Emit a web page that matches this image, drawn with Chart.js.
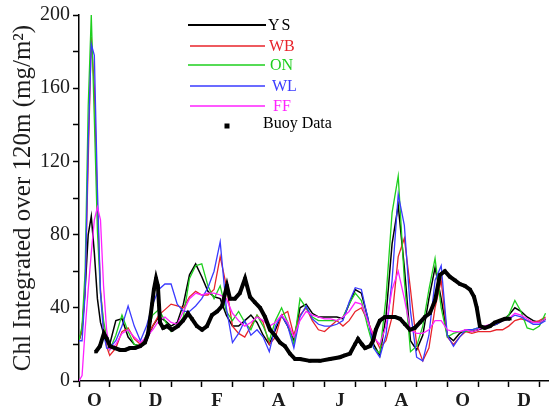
<!DOCTYPE html>
<html>
<head>
<meta charset="utf-8">
<script src="https://cdn.jsdelivr.net/npm/chart.js@4/dist/chart.umd.min.js"></script>
<style>
  html, body { margin: 0; padding: 0; background: #fff; }
  #wrap { width: 555px; height: 413px; }
</style>
</head>
<body>
<div id="wrap"><canvas id="chl" width="555" height="413"></canvas></div>
<script>
// Time axis in months from 1 October (0 = start of October)
const modelMonths = [
  0, 0.1, 0.2, 0.3, 0.4, 0.5, 0.6, 0.7, 0.8, 0.9, 1.0,
  1.2, 1.4, 1.6, 1.8, 2.0, 2.2, 2.4, 2.6, 2.8, 3.0,
  3.2, 3.4, 3.6, 3.8, 4.0, 4.2, 4.4, 4.6, 4.8, 5.0,
  5.2, 5.4, 5.6, 5.8, 6.0, 6.2, 6.4, 6.6, 6.8, 7.0,
  7.2, 7.4, 7.6, 7.8, 8.0, 8.2, 8.4, 8.6, 8.8, 9.0,
  9.2, 9.4, 9.6, 9.8, 10.0, 10.2, 10.4, 10.6, 10.8, 11.0,
  11.2, 11.4, 11.6, 11.8, 12.0, 12.2, 12.4, 12.6, 12.8, 13.0,
  13.2, 13.4, 13.6, 13.8, 14.0, 14.2, 14.4, 14.6, 14.8, 15.0,
  15.2
];

// Integrated chlorophyll (mg/m2) for each model run
const seriesYS = [
  22, 28, 50, 80, 90, 70, 45, 32, 26, 22, 20,
  33, 34, 24, 20, 19, 22, 30, 35, 33, 30,
  32, 42, 58, 64, 57, 49, 46, 45, 36, 30,
  30, 33, 36, 32, 25, 20, 28, 36, 30, 22,
  40, 42, 37, 35, 35, 35, 35, 34, 42, 50,
  48, 35, 20, 14, 35, 75, 96, 62, 22, 17,
  25, 45, 62, 45, 25, 22, 26, 28, 27, 28,
  29, 30, 31, 33, 36, 40, 38, 35, 33, 32,
  34
];
const seriesWB = [
  22, 28, 50, 120, 188, 160, 95, 50, 30, 19, 14,
  18, 27, 29, 23, 20, 24, 30, 36, 39, 42,
  41, 40, 46, 49, 47, 47, 50, 68, 52, 30,
  26, 24, 30, 36, 32, 20, 24, 36, 38, 25,
  36, 40, 33, 28, 27, 30, 33, 30, 33, 38,
  40, 33, 25, 18, 22, 35, 68, 78, 50, 20,
  11, 18, 40, 55, 24, 20, 24, 27, 26, 27,
  27, 27, 28, 28, 30, 33, 34, 33, 32, 33,
  35
];
const seriesON = [
  22, 30, 60, 150, 200, 143, 82, 48, 33, 24, 17,
  25, 36, 27, 20, 19, 25, 36, 39, 33, 27,
  30, 35, 56, 63, 64, 52, 45, 52, 38, 33,
  38, 32, 28, 36, 30, 22, 33, 40, 32, 20,
  45, 40, 35, 33, 33, 33, 33, 35, 42, 48,
  44, 30, 18, 15, 45, 92, 112, 55, 16, 19,
  30, 50, 67, 40, 24, 26, 27, 27, 28, 29,
  30, 30, 32, 33, 36, 44, 38, 29, 28, 30,
  37
];
const seriesWL = [
  22, 22, 48, 130, 184, 178, 105, 48, 26, 18, 18,
  22, 30, 41, 30, 22, 30, 42, 50, 53, 53,
  42, 38, 38, 41, 45, 51, 60, 76, 40, 21,
  26, 33, 25, 28, 24, 16, 30, 36, 30, 18,
  35, 41, 34, 31, 30, 30, 31, 33, 43, 51,
  50, 35, 18, 13, 25, 55, 102, 85, 38, 13,
  11, 25, 55, 63, 25, 19, 24, 28, 28, 29,
  29, 30, 31, 33, 34, 36, 35, 33, 31, 31,
  33
];
const seriesFF = [
  0, 3, 28, 50, 70, 88, 95, 88, 52, 28, 17,
  20, 26, 28, 24, 21, 24, 28, 33, 35, 32,
  31, 38, 45, 48, 47, 48, 48, 47, 45, 37,
  33, 30, 32, 35, 33, 30, 32, 36, 32, 24,
  33, 38, 36, 35, 34, 34, 33, 35, 38, 43,
  42, 33, 24, 20, 30, 50, 60, 45, 28, 26,
  26, 28, 33, 33, 28, 27, 27, 28, 27, 28,
  30, 31, 32, 33, 34, 37, 36, 34, 32, 32,
  34
];

// Mooring observations
const buoyMonths = [
  0.55, 0.68, 0.81, 0.91, 1.01, 1.17, 1.34, 1.50, 1.66, 1.82,
  1.99, 2.15, 2.25, 2.31, 2.38, 2.44, 2.51, 2.57, 2.64, 2.74,
  2.87, 3.03, 3.22, 3.39, 3.55, 3.68, 3.84, 4.01, 4.17, 4.33,
  4.50, 4.66, 4.82, 4.92, 5.08, 5.24, 5.41, 5.57, 5.73, 5.90,
  6.06, 6.22, 6.38, 6.55, 6.71, 6.87, 7.04, 7.20, 7.52, 7.85,
  8.18, 8.50, 8.66, 8.83, 8.99, 9.09, 9.22, 9.32, 9.48, 9.58,
  9.67, 9.80, 9.97, 10.13, 10.29, 10.46, 10.62, 10.78, 10.94, 11.11,
  11.27, 11.43, 11.60, 11.76, 11.92, 12.08, 12.25, 12.41, 12.57, 12.74,
  12.87, 12.96, 13.06, 13.22, 13.39, 13.55, 13.71, 13.88, 14.04
];
const buoyValues = [
  16, 19, 26, 23, 19, 18, 17, 17, 18, 18,
  19, 21, 26, 33, 42, 50, 56, 52, 32, 29,
  30, 28, 30, 33, 37, 34, 30, 28, 30, 36,
  38, 41, 52, 45, 45, 48, 56, 46, 43, 40,
  35, 28, 25, 21, 19, 15, 12, 12, 11, 11,
  12, 13, 14, 15, 20, 23, 20, 18, 19, 22,
  28, 33, 35, 35, 35, 34, 31, 28, 29, 32,
  35, 37, 44, 58, 60, 57, 55, 53, 52, 50,
  46, 40, 30, 29, 30, 32, 33, 34, 34
];

// Month initials, centred in every other month
const labelMonths = [0.5, 2.5, 4.5, 6.5, 8.5, 10.5, 12.5, 14.5];
const monthInitials = ['O', 'D', 'F', 'A', 'J', 'A', 'O', 'D'];
const monthCount = 15;

const yAxisTitle = 'Chl Integrated over 120m (mg/m\u00B2)';

const COLORS = {
  YS: '#000000',
  WB: '#e8232a',
  ON: '#1ecf1e',
  WL: '#3a3aff',
  FF: '#ff22ff',
  buoy: '#000000'
};

const toPoints = (xs, ys) => xs.map((x, i) => ({ x: x, y: ys[i] }));

// x tick positions: month boundaries (with tick marks) and mid-months (labels only)
const xTickValues = [];
for (let m = 0; m <= monthCount; m++) {
  xTickValues.push(m);
  if (m < monthCount) xTickValues.push(m + 0.5);
}

// Hand-placed legend block in the upper middle of the plot
const legendRows = [
  { text: 'YS', color: COLORS.YS, y: 25, x1: 188, x2: 266, tx: 268, lw: 2, spacing: '2px' },
  { text: 'WB', color: COLORS.WB, y: 46, x1: 190, x2: 265, tx: 269, lw: 1.5 },
  { text: 'ON', color: COLORS.ON, y: 65, x1: 188, x2: 265, tx: 270, lw: 1.5 },
  { text: 'WL', color: COLORS.WL, y: 86, x1: 190, x2: 265, tx: 272, lw: 1.5 },
  { text: 'FF', color: COLORS.FF, y: 106, x1: 190, x2: 265, tx: 273, lw: 1.5 },
  { text: 'Buoy Data', color: COLORS.buoy, y: 123, marker: { x: 227, y: 126 }, tx: 263 }
];

const legendPlugin = {
  id: 'sideLegend',
  afterDraw(chart) {
    const ctx = chart.ctx;
    ctx.save();
    ctx.font = '16px "Liberation Serif", "Times New Roman", serif';
    ctx.textBaseline = 'middle';
    ctx.textAlign = 'left';
    legendRows.forEach(r => {
      if (r.marker) {
        ctx.fillStyle = r.color;
        ctx.fillRect(r.marker.x - 2.5, r.marker.y - 2.5, 5, 5);
      } else {
        ctx.strokeStyle = r.color;
        ctx.lineWidth = r.lw;
        ctx.beginPath();
        ctx.moveTo(r.x1, r.y);
        ctx.lineTo(r.x2, r.y);
        ctx.stroke();
      }
      ctx.fillStyle = r.color;
      if ('letterSpacing' in ctx) ctx.letterSpacing = r.spacing || '0px';
      ctx.fillText(r.text, r.tx, r.y + 1);
    });
    ctx.restore();
  }
};

const modelLine = (label, values, color, order, width) => ({
  label: label,
  data: toPoints(modelMonths, values),
  showLine: true,
  borderColor: color,
  backgroundColor: color,
  borderWidth: width,
  pointRadius: 0,
  tension: 0,
  order: order
});

new Chart(document.getElementById('chl'), {
  type: 'scatter',
  data: {
    datasets: [
      {
        label: 'Buoy Data',
        data: toPoints(buoyMonths, buoyValues),
        showLine: true,
        borderColor: COLORS.buoy,
        backgroundColor: COLORS.buoy,
        borderWidth: 4,
        pointStyle: 'rect',
        pointRadius: 2.3,
        pointBorderWidth: 0,
        order: 0
      },
      modelLine('FF', seriesFF, COLORS.FF, 1, 1.3),
      modelLine('WL', seriesWL, COLORS.WL, 2, 1.3),
      modelLine('ON', seriesON, COLORS.ON, 3, 1.3),
      modelLine('WB', seriesWB, COLORS.WB, 4, 1.3),
      modelLine('YS', seriesYS, COLORS.YS, 5, 1.5)
    ]
  },
  options: {
    responsive: false,
    animation: false,
    devicePixelRatio: 1,
    layout: { padding: { top: 12, right: 7, left: 0, bottom: 0 } },
    plugins: {
      legend: { display: false },
      tooltip: { enabled: false }
    },
    scales: {
      x: {
        type: 'linear',
        min: 0,
        max: 15.28,
        afterBuildTicks: s => { s.ticks = xTickValues.map(v => ({ value: v })); },
        afterFit: s => { s.height = 32; },
        grid: {
          drawOnChartArea: false,
          drawTicks: true,
          tickLength: 6,
          tickWidth: 1.5,
          tickColor: c => (c.tick && Number.isInteger(c.tick.value)) ? '#000' : 'rgba(0,0,0,0)'
        },
        border: { color: '#000', width: 1.5 },
        ticks: {
          autoSkip: false,
          maxRotation: 0,
          minRotation: 0,
          padding: 3,
          color: '#1c1c1c',
          font: { family: '"Liberation Serif", serif', size: 19, weight: 'bold' },
          callback: v => {
            const i = labelMonths.indexOf(v);
            return i >= 0 ? monthInitials[i] : '';
          }
        }
      },
      y: {
        min: 0,
        max: 200,
        afterFit: s => { s.width = 79; },
        grid: {
          drawOnChartArea: false,
          tickLength: 6,
          tickWidth: 1.5,
          tickColor: '#000'
        },
        border: { color: '#000', width: 1.5 },
        ticks: {
          stepSize: 20,
          padding: 3,
          color: '#1c1c1c',
          font: { family: '"Liberation Serif", serif', size: 20 },
          callback: v => (v % 40 === 0 ? String(v) : '')
        },
        title: {
          display: true,
          text: yAxisTitle,
          color: '#1c1c1c',
          font: { family: '"Liberation Serif", serif', size: 25 },
          padding: { top: 8, bottom: 0 }
        }
      }
    }
  },
  plugins: [legendPlugin]
});
</script>
</body>
</html>
